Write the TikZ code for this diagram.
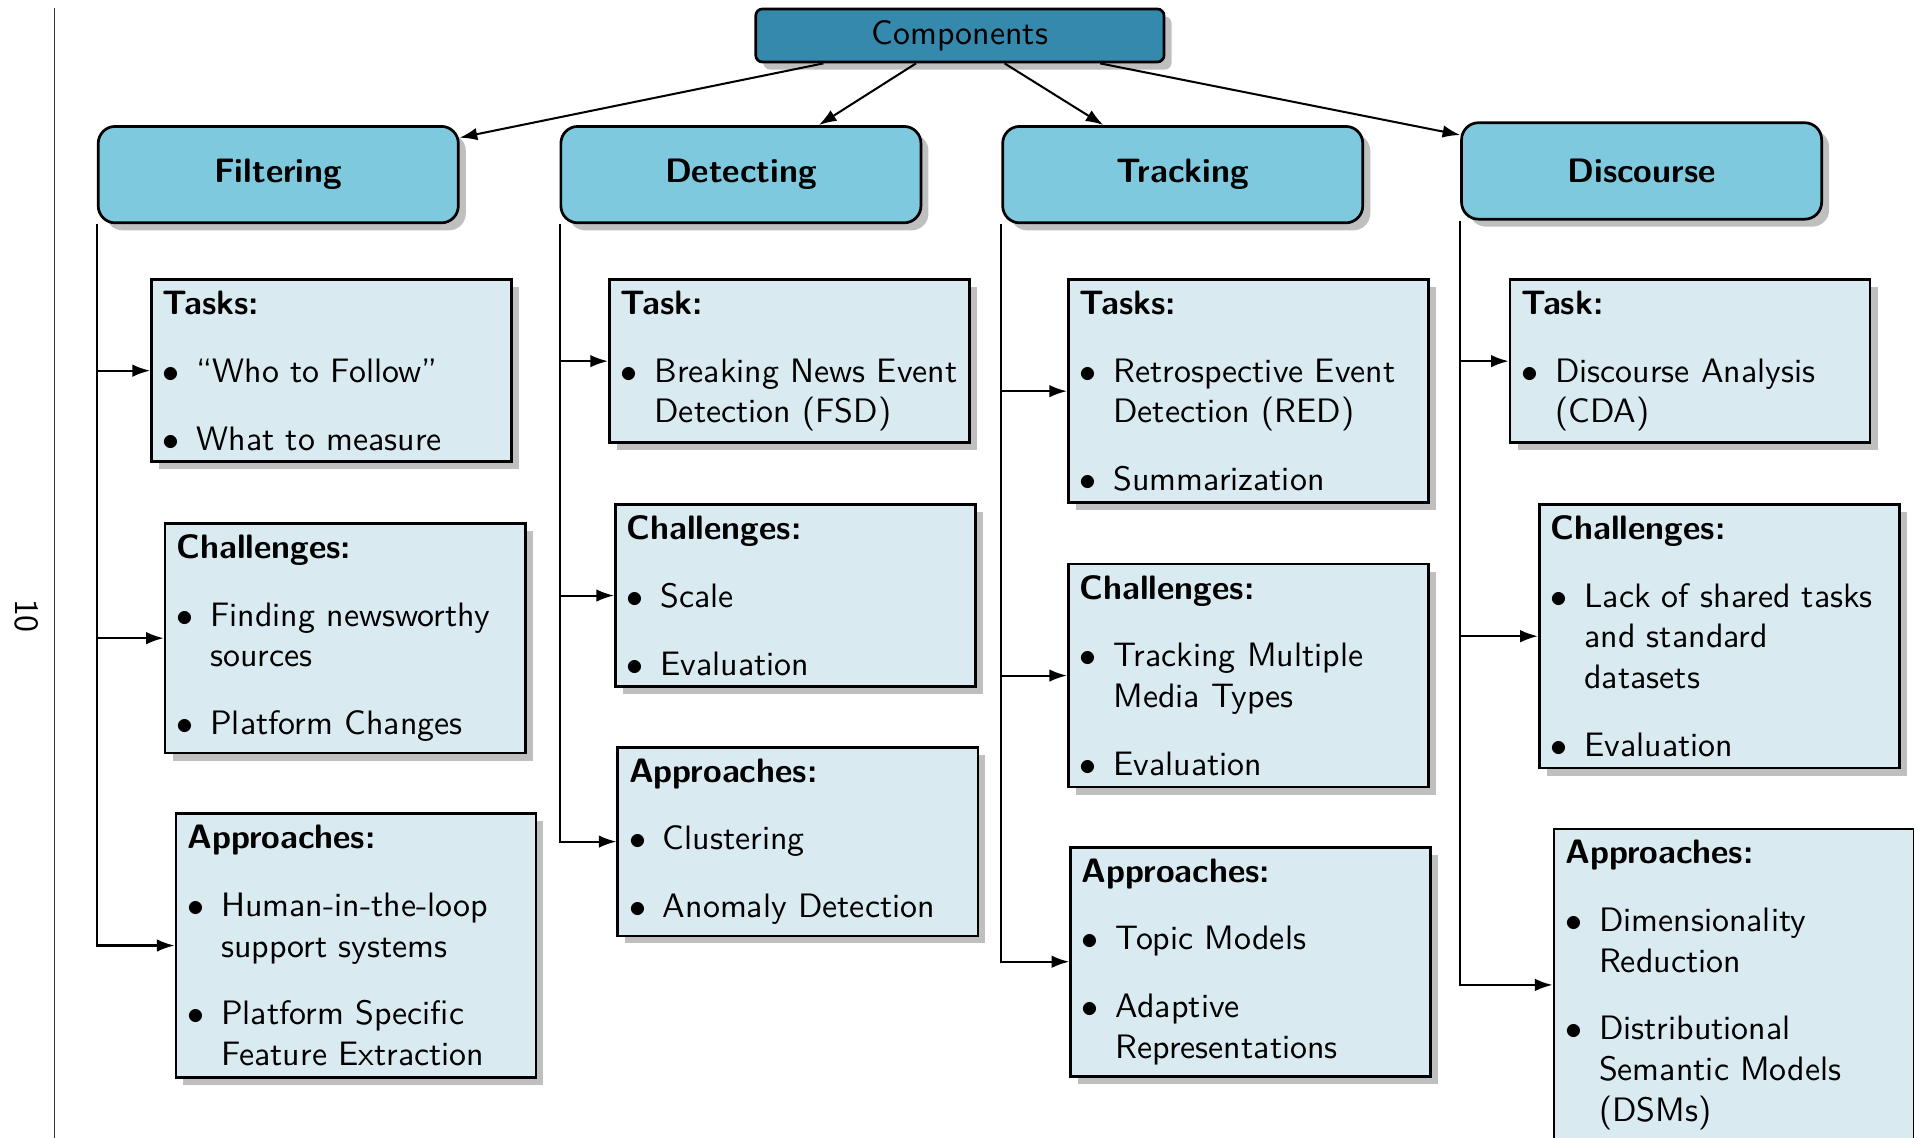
\documentclass[tikz,border=0pt]{standalone}
\usepackage{enumitem}
\usepackage{tikz}
\usetikzlibrary{arrows.meta, shadows}
\renewcommand{\familydefault}{\sfdefault}
\setlist[itemize]{leftmargin=*, label=$\bullet$}
\definecolor{compblue}{RGB}{52,137,172}
\definecolor{headblue}{RGB}{127,201,223}
\definecolor{itemblue}{RGB}{217,234,241}

\begin{document}
\begin{tikzpicture}[
    >={Latex[length=5.2pt, width=3.7pt]},
    comp/.style={rectangle, rounded corners=2pt, draw=black, thick, fill=compblue, drop shadow, text width=4cm, align=center},
    head/.style={rectangle, rounded corners=5pt, draw=black, thick, fill=headblue, drop shadow, text width=3.5cm, minimum height=1cm, align=center, font=\bfseries},
    sub/.style={rectangle, draw=black, thick, fill=itemblue, drop shadow, text width=3.5cm, align=flush left, anchor=north west},
    arr/.style={->, semithick}
]
\useasboundingbox (0,0) rectangle (19.85,-11.80);
\clip (0,0) rectangle (19.85,-11.80);

\coordinate (margintop) at (0.565,-0.083);
\coordinate (marginbot) at (0.565,-11.80);
\draw[black!80] (margintop) -- (marginbot);
\node[rotate=-90] (pagenum) at (0.280,-6.388) {10};

\node[comp] (comp) at (9.955,-0.368) {Components};

\node[head] (filt) at (2.886,-1.811) {Filtering};
\node[head] (det) at (7.684,-1.811) {Detecting};
\node[head] (trk) at (12.266,-1.811) {Tracking};
\node[head] (disc) at (17.025,-1.773) {Discourse};

\draw[arr] (comp) -- (filt);
\draw[arr] (comp) -- (det);
\draw[arr] (comp) -- (trk);
\draw[arr] (comp) -- (disc);

\node[sub] (filt-task) at (1.556,-2.886) {\textbf{Tasks:}
  \begin{itemize}
    \item “Who to Follow”
    \item What to measure
  \end{itemize}};
\node[sub] (filt-chal) at (1.698,-5.413) {\textbf{Challenges:}
  \begin{itemize}
    \item Finding newsworthy sources
    \item Platform Changes
  \end{itemize}};
\node[sub] (filt-appr) at (1.810,-8.426) {\textbf{Approaches:}
  \begin{itemize}
    \item Human-in-the-loop support systems
    \item Platform Specific Feature Extraction
  \end{itemize}};

\node[sub] (det-task) at (6.305,-2.886) {\textbf{Task:}
  \begin{itemize}
    \item Breaking News Event Detection (FSD)
  \end{itemize}};
\node[sub] (det-chal) at (6.367,-5.216) {\textbf{Challenges:}
  \begin{itemize}
    \item Scale
    \item Evaluation
  \end{itemize}};
\node[sub] (det-appr) at (6.393,-7.736) {\textbf{Approaches:}
  \begin{itemize}
    \item Clustering
    \item Anomaly Detection
  \end{itemize}};

\node[sub] (trk-task) at (11.065,-2.886) {\textbf{Tasks:}
  \begin{itemize}
    \item Retrospective Event Detection (RED)
    \item Summarization
  \end{itemize}};
\node[sub] (trk-chal) at (11.065,-5.835) {\textbf{Challenges:}
  \begin{itemize}
    \item Tracking Multiple Media Types
    \item Evaluation
  \end{itemize}};
\node[sub] (trk-appr) at (11.089,-8.773) {\textbf{Approaches:}
  \begin{itemize}
    \item Topic Models
    \item Adaptive Representations
  \end{itemize}};

\node[sub] (disc-task) at (15.646,-2.886) {\textbf{Task:}
  \begin{itemize}
    \item Discourse Analysis (CDA)
  \end{itemize}};
\node[sub] (disc-chal) at (15.949,-5.216) {\textbf{Challenges:}
  \begin{itemize}
    \item Lack of shared tasks and standard datasets
    \item Evaluation
  \end{itemize}};
\node[sub] (disc-appr) at (16.101,-8.582) {\textbf{Approaches:}
  \begin{itemize}
    \item Dimensionality Reduction
    \item Distributional Semantic Models (DSMs)
  \end{itemize}};

\draw[arr] (filt.south west) |- (filt-task.west);
\draw[arr] (filt.south west) |- (filt-chal.west);
\draw[arr] (filt.south west) |- (filt-appr.west);
\draw[arr] (det.south west) |- (det-task.west);
\draw[arr] (det.south west) |- (det-chal.west);
\draw[arr] (det.south west) |- (det-appr.west);
\draw[arr] (trk.south west) |- (trk-task.west);
\draw[arr] (trk.south west) |- (trk-chal.west);
\draw[arr] (trk.south west) |- (trk-appr.west);
\draw[arr] (disc.south west) |- (disc-task.west);
\draw[arr] (disc.south west) |- (disc-chal.west);
\draw[arr] (disc.south west) |- (disc-appr.west);

\end{tikzpicture}
\end{document}
